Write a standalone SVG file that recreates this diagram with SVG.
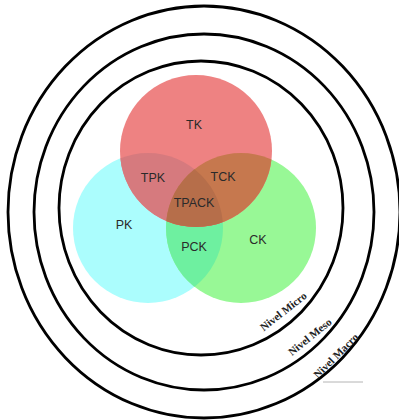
<svg xmlns="http://www.w3.org/2000/svg" width="399" height="420" viewBox="0 0 399 420">
  <style>
    .ring { fill: none; stroke: #000; stroke-width: 2.8; }
    .lbl { font-family: "Liberation Sans", Arial, sans-serif; font-size: 12.5px; fill: #2a2a2a; text-anchor: middle; }
    .lvl { font-family: "Liberation Serif", "Times New Roman", serif; font-size: 11px; font-weight: bold; fill: #222; text-anchor: middle; }
  </style>
  <defs>
    <clipPath id="clipT"><circle cx="196" cy="151" r="76"/></clipPath>
    <clipPath id="clipP"><circle cx="148" cy="228" r="75"/></clipPath>
    <clipPath id="clipC"><circle cx="241" cy="228" r="75"/></clipPath>
  </defs>
  <rect width="399" height="420" fill="#fff"/>

  <!-- level rings -->
  <g id="rings">
    <ellipse id="ring-macro" class="ring" cx="204" cy="212" rx="196" ry="206"/>
    <ellipse id="ring-meso" class="ring" cx="204" cy="212" rx="170" ry="178"/>
    <ellipse id="ring-micro" class="ring" cx="201" cy="208" rx="142" ry="147"/>
  </g>

  <!-- knowledge circles -->
  <g id="PK"><circle cx="148" cy="228" r="75" fill="#abfdfd"/></g>
  <g id="CK"><circle cx="241" cy="228" r="75" fill="#98f896"/></g>
  <g id="PCK"><circle cx="241" cy="228" r="75" fill="#6ef0a0" clip-path="url(#clipP)"/></g>
  <g id="TK"><circle cx="196" cy="151" r="76" fill="#ee8282"/></g>
  <g id="TPK"><circle cx="148" cy="228" r="75" fill="#d67a7e" clip-path="url(#clipT)"/></g>
  <g id="TCK"><circle cx="241" cy="228" r="75" fill="#c6784e" clip-path="url(#clipT)"/></g>
  <g id="TPACK" clip-path="url(#clipT)"><circle cx="241" cy="228" r="75" fill="#b66e4a" clip-path="url(#clipP)"/></g>

  <!-- labels -->
  <g id="labels">
    <text class="lbl" x="194" y="128.5">TK</text>
    <text class="lbl" x="153" y="181.5">TPK</text>
    <text class="lbl" x="223" y="180.5">TCK</text>
    <text class="lbl" x="194" y="206.5">TPACK</text>
    <text class="lbl" x="124" y="228.5">PK</text>
    <text class="lbl" x="194" y="250.5">PCK</text>
    <text class="lbl" x="258" y="243.5">CK</text>
  </g>

  <g id="levels">
    <text class="lvl" transform="translate(283.5 311.5) rotate(-38)" y="3.5">Nivel Micro</text>
    <text class="lvl" transform="translate(310 337) rotate(-39)" y="3.5">Nivel Meso</text>
    <text class="lvl" transform="translate(336 356) rotate(-45)" y="3.5">Nivel Macro</text>
  </g>

  <!-- connectors -->
  <g id="connectors">
    <line x1="323" y1="382" x2="363" y2="382" stroke="#b4b4b4" stroke-width="1"/>
  </g>
</svg>
